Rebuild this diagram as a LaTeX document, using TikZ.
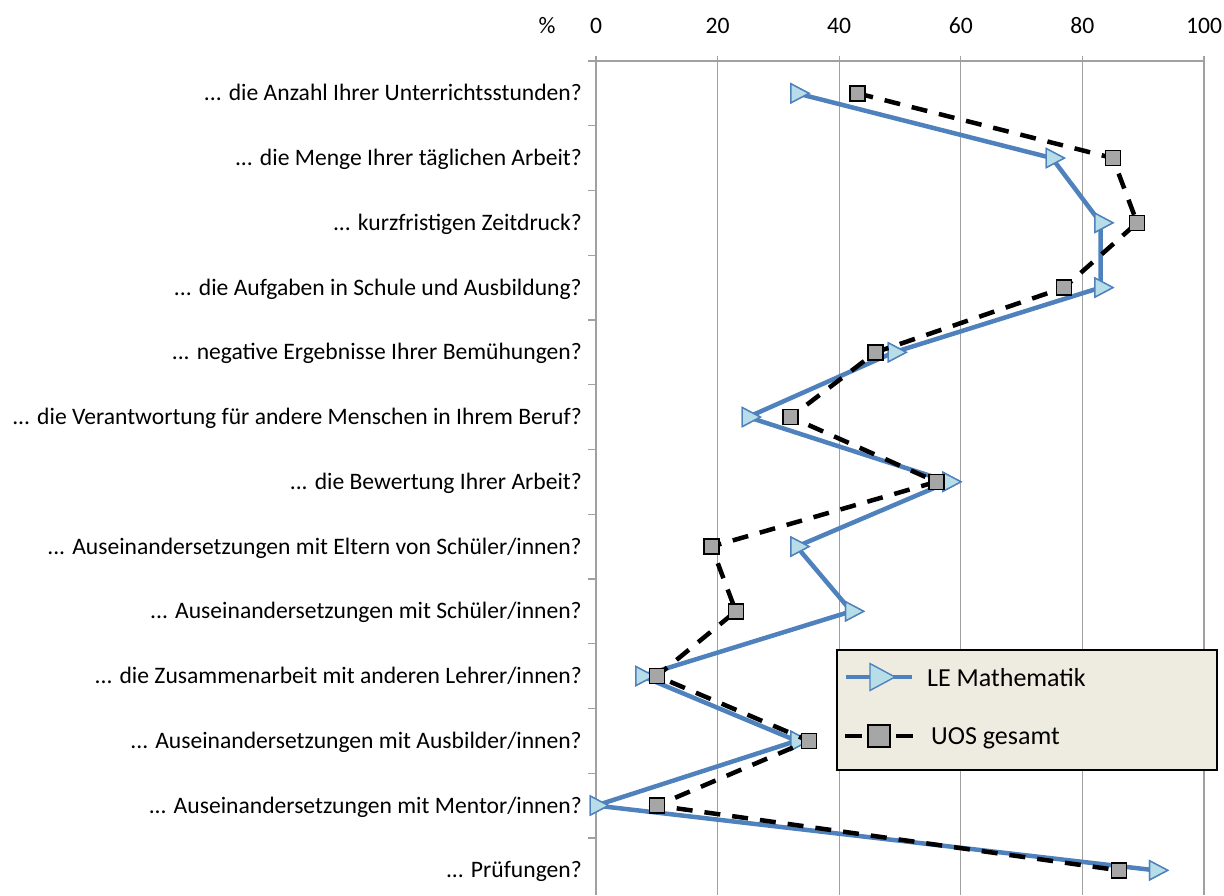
\documentclass[tikz,border=0pt]{standalone}
\usepackage{fontspec}
\setmainfont{Carlito}
\usetikzlibrary{shapes.geometric}
\definecolor{lineblue}{HTML}{4F81BD}
\definecolor{markblue}{HTML}{B7DEE8}
\definecolor{markgray}{HTML}{A6A6A6}
\definecolor{legendbg}{HTML}{EEECE1}
\definecolor{gridgray}{HTML}{A0A0A0}
\newcommand{\qdots}{...}
\tikzstyle{trimark}=[isosceles triangle, isosceles triangle stretches, draw=lineblue, fill=markblue, line width=1.4pt, inner sep=0pt, minimum width=19pt, minimum height=18pt]
\tikzstyle{sqmark}=[rectangle, draw=black, fill=markgray, line width=1.5pt, inner sep=0pt, minimum size=15pt]
\tikzstyle{blueline}=[draw=lineblue, line width=4.5pt, line join=round]
\tikzstyle{dashline}=[draw=black, line width=4.5pt, dash pattern=on 16pt off 12pt]
\tikzstyle{gridline}=[draw=gridgray, line width=1.2pt]
\tikzstyle{question}=[anchor=base east, inner sep=0pt, font=\fontsize{23.6}{26}\selectfont]
\tikzstyle{ticklabel}=[anchor=base, inner sep=0pt, font=\fontsize{23.6}{26}\selectfont]
\tikzstyle{legendtext}=[anchor=base west, inner sep=0pt, font=\fontsize{26}{30}\selectfont]

\begin{document}
\begin{tikzpicture}[x=1pt, y=-1pt]
    \useasboundingbox (0,0) rectangle (1224,895);
    % grid and axis
    \foreach \k in {0,...,5}
        \path[gridline] ({596+121.6*\k},56) -- ({596+121.6*\k},895);
    \path[gridline] (588,61) -- (1204,61);
    \foreach \k in {1,...,12}
        \path[gridline] (588,{61+64.75*\k}) -- (596,{61+64.75*\k});

    % tick labels on top
    \node[ticklabel] (pct) at (547,33) {\%};
    \foreach \v [count=\k from 0] in {0,20,40,60,80,100}
        \node[ticklabel] (x\k) at ({596+121.6*\k},33) {\v};

    % questions
    \foreach \q [count=\i] in {{\qdots{} die Anzahl Ihrer Unterrichtsstunden?},
        {\qdots{} die Menge Ihrer täglichen Arbeit?},
        {\qdots{} kurzfristigen Zeitdruck?},
        {\qdots{} die Aufgaben in Schule und Ausbildung?},
        {\qdots{} negative Ergebnisse Ihrer Bemühungen?},
        {\qdots{} die Verantwortung für andere Menschen in Ihrem Beruf?},
        {\qdots{} die Bewertung Ihrer Arbeit?},
        {\qdots{} Auseinandersetzungen mit Eltern von Schüler/innen?},
        {\qdots{} Auseinandersetzungen mit Schüler/innen?},
        {\qdots{} die Zusammenarbeit mit anderen Lehrer/innen?},
        {\qdots{} Auseinandersetzungen mit Ausbilder/innen?},
        {\qdots{} Auseinandersetzungen mit Mentor/innen?},
        {\qdots{} Prüfungen?}}
        \node[question] (q\i) at (582,{93.3+64.75*(\i-1)+7.6}) {\q};

    % LE Mathematik
    \foreach \v [count=\i] in {33,75,83,83,49,25,58,33,42,7.5,33,0,92}
        \node[trimark] (t\i) at ({596+6.08*\v},{93.3+64.75*(\i-1)}) {};
    \path[blueline] (t1.center) \foreach \i in {2,...,13} { -- (t\i.center) };
    \foreach \i in {1,...,13}
        \node[trimark] at (t\i) {};

    % UOS gesamt
    \foreach \v [count=\i] in {43,85,89,77,46,32,56,19,23,10,35,10,86}
        \coordinate (s\i) at ({596+6.08*\v},{93.3+64.75*(\i-1)});
    \path[dashline] (s1) \foreach \i in {2,...,13} { -- (s\i) };
    \foreach \i in {1,...,13}
        \node[sqmark] (m\i) at (s\i) {};

    % legend
    \node[draw=black, fill=legendbg, line width=1.6pt, minimum width=380pt, minimum height=120pt] (legend) at (1027,710) {};
    \coordinate (la) at (846,677);
    \coordinate (lb) at (912,677);
    \path[blueline] (la) -- (lb);
    \node[trimark, minimum width=27pt, minimum height=25pt] (lt) at (878,677) {};
    \node[legendtext] (ltext) at (927,686) {LE Mathematik};
    \coordinate (lc) at (845,736);
    \coordinate (ld) at (913,736);
    \path[dashline, dash pattern=on 17pt off 34pt] (lc) -- (ld);
    \node[sqmark, minimum size=22pt] (ls) at (879,736) {};
    \node[legendtext] (stext) at (931,744) {UOS gesamt};
\end{tikzpicture}
\end{document}
